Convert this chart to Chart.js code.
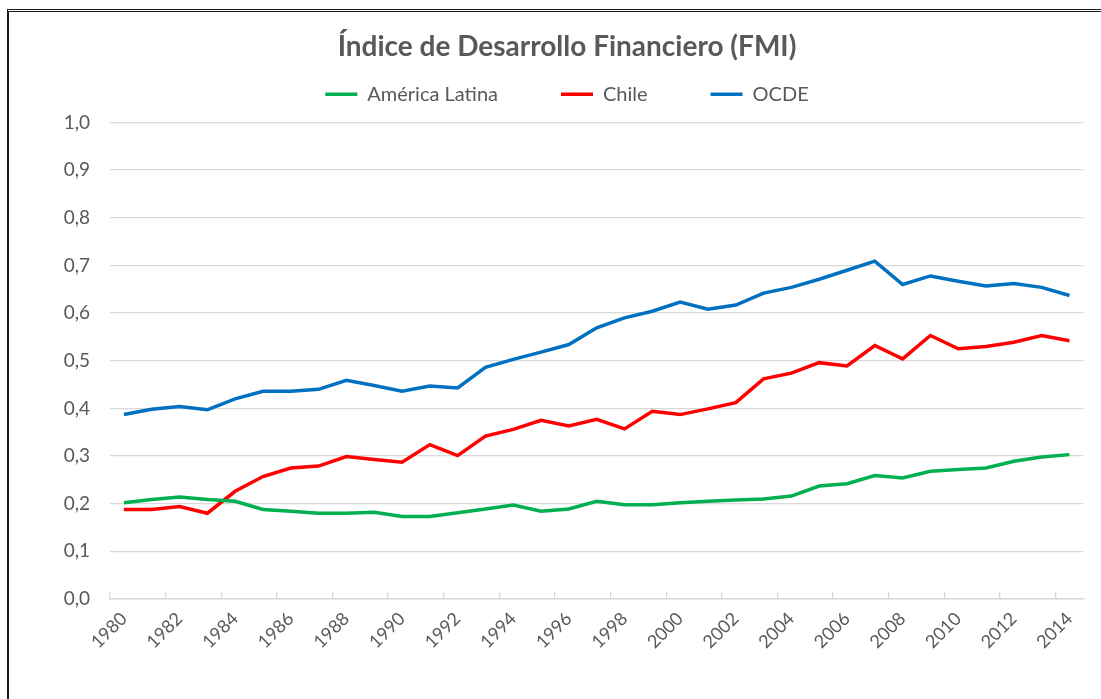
<!DOCTYPE html>
<html>
<head>
<meta charset="utf-8">
<script src="https://cdn.jsdelivr.net/npm/chart.js@4.4.1/dist/chart.umd.min.js"></script>
<style>
  html, body { margin: 0; padding: 0; background: #fff; overflow: hidden; }
  #frame { position: absolute; left: 7px; top: 9px; width: 1300px; height: 900px;
           border-left: 2px solid #1a1a1a; border-top: 3px double #1a1a1a; }
  #box { position: absolute; left: 0; top: 0; width: 1101px; height: 699px; }
</style>
</head>
<body>
<div id="frame"></div>
<div id="box"><canvas id="fdChart" width="1101" height="699"></canvas></div>
<script>
// years on the x axis
const years = [];
for (let y = 1980; y <= 2014; y++) years.push(String(y));

// Índice de Desarrollo Financiero
const americaLatina = [0.202, 0.209, 0.214, 0.209, 0.205, 0.188, 0.184, 0.180, 0.180, 0.182,
                       0.173, 0.173, 0.181, 0.189, 0.197, 0.184, 0.189, 0.205, 0.198, 0.198,
                       0.202, 0.205, 0.208, 0.210, 0.216, 0.237, 0.242, 0.259, 0.254, 0.268,
                       0.272, 0.275, 0.289, 0.298, 0.303];
const chile = [0.188, 0.188, 0.194, 0.180, 0.226, 0.257, 0.275, 0.279, 0.299, 0.293,
               0.287, 0.324, 0.301, 0.342, 0.356, 0.375, 0.363, 0.377, 0.357, 0.394,
               0.387, 0.399, 0.412, 0.462, 0.474, 0.496, 0.489, 0.532, 0.504, 0.553,
               0.525, 0.530, 0.539, 0.553, 0.542];
const ocde = [0.387, 0.398, 0.404, 0.397, 0.420, 0.436, 0.436, 0.440, 0.459, 0.448,
              0.436, 0.447, 0.443, 0.486, 0.503, 0.518, 0.534, 0.569, 0.590, 0.604,
              0.623, 0.608, 0.617, 0.642, 0.654, 0.671, 0.690, 0.709, 0.660, 0.678,
              0.667, 0.657, 0.662, 0.654, 0.637];

const seriesNames = ['América Latina', 'Chile', 'OCDE'];
const seriesColors = ['#00B050', '#FF0000', '#0070C0'];

const txtColor = '#595959';
const fontFam = 'Lato, "Open Sans", sans-serif';

const ctx = document.getElementById('fdChart');

const sets = [americaLatina, chile, ocde].map((vals, i) => ({
    label: seriesNames[i],
    data: vals,
    borderColor: seriesColors[i],
    backgroundColor: seriesColors[i],
    borderWidth: 3.5,
    pointRadius: 0,
    tension: 0,
    fill: false
}));

new Chart(ctx, {
    type: 'line',
    data: { labels: years, datasets: sets },
    options: {
        responsive: false,
        animation: false,
        layout: { padding: { left: 40, right: 7, top: 0, bottom: 0 } },
        scales: {
            x: {
                offset: true,
                grid: {
                    offset: true,
                    drawOnChartArea: false,
                    drawTicks: true,
                    tickLength: -7,          // small marks pointing up, every 2 years
                    lineWidth: 1.3,
                    color: c => (c.index % 2 === 0 ? '#D9D9D9' : 'rgba(0,0,0,0)')
                },
                border: { color: '#D9D9D9', width: 1.5 },
                ticks: {
                    autoSkip: false,
                    maxRotation: 45,
                    minRotation: 45,
                    color: txtColor,
                    font: { family: fontFam, size: 18 },
                    padding: 16,
                    callback: function (v, i) { return i % 2 === 0 ? this.getLabelForValue(v) : ''; }
                },
                afterFit: s => { s.height = 100; }
            },
            // empty strip between legend and plot
            gap: {
                type: 'category',
                axis: 'x',
                position: 'top',
                grid: { display: false },
                border: { display: false },
                ticks: { display: false },
                afterFit: s => { s.height = 8.3; }
            },
            y: {
                min: 0,
                max: 1,
                grid: { color: '#D9D9D9', lineWidth: 1.3, drawTicks: false },
                border: { display: false },
                ticks: {
                    stepSize: 0.1,
                    padding: 20,
                    color: txtColor,
                    font: { family: fontFam, size: 19 },
                    callback: v => v.toFixed(1).replace('.', ',')
                },
                afterFit: s => { s.width = 70; }
            }
        },
        plugins: {
            title: {
                display: true,
                text: 'Índice de Desarrollo Financiero (FMI)',
                color: txtColor,
                font: { family: fontFam, size: 28, weight: 'bold' },
                padding: { top: 30.5, bottom: -42.9 }
            },
            legend: {
                position: 'top',
                labels: {
                    color: txtColor,
                    font: { family: fontFam, size: 20 },
                    usePointStyle: true,
                    pointStyle: 'line',
                    pointStyleWidth: 32,
                    padding: 63
                }
            },
            tooltip: { enabled: false }
        }
    }
});
</script>
</body>
</html>
